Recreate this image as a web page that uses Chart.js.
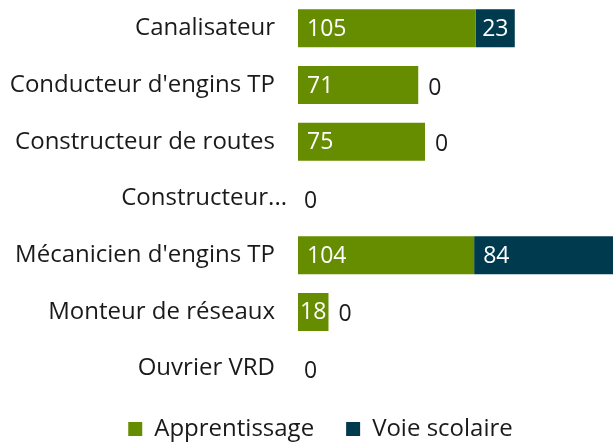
<!DOCTYPE html>
<html>
<head>
<meta charset="utf-8">
<script src="https://cdn.jsdelivr.net/npm/chart.js@4"></script>
<style>
  html, body { margin: 0; padding: 0; background: #fff; }
  #wrap { width: 613px; height: 446px; }
</style>
</head>
<body>
<div id="wrap"><canvas id="myChart"></canvas></div>
<script>
// Chart data
const categories = ["Canalisateur", "Conducteur d'engins TP", "Constructeur de routes", "Constructeur...", "Mécanicien d'engins TP", "Monteur de réseaux", "Ouvrier VRD"];
const apprentissage = [105, 71, 75, 0, 104, 18, 0];
const voieScolaire = [23, 0, 0, 0, 84, 0, 0];

const green = '#668c00';
const navy = '#003a4f';
const fontFamily = "'Open Sans', sans-serif";
const fontSize = 24;

// Draw value labels on / next to each bar
const valueLabels = {
  id: 'valueLabels',
  afterDatasetsDraw(chart) {
    const ctx = chart.ctx;
    ctx.save();
    ctx.font = '23px ' + fontFamily;
    ctx.textBaseline = 'middle';
    ctx.textAlign = 'left';
    const m0 = chart.getDatasetMeta(0);
    const m1 = chart.getDatasetMeta(1);

    // white label inside a segment, pulled in if the segment is narrow
    function inside(bar, value) {
      const w = bar.x - bar.base;
      const tw = ctx.measureText(value).width;
      const pad = Math.max(0, Math.min(9, (w - tw) / 2));
      ctx.fillStyle = '#fff';
      ctx.fillText(value, bar.base + pad, bar.y + 1);
    }

    categories.forEach((c, i) => {
      const a = apprentissage[i];
      const v = voieScolaire[i];
      if (a > 0) inside(m0.data[i], a);
      if (v > 0) {
        inside(m1.data[i], v);
      } else {
        ctx.fillStyle = '#1a1a1a';
        const gap = a > 0 ? 10 : 6;
        ctx.fillText(v, m1.data[i].x + gap, m1.data[i].y + 3);
      }
    });
    ctx.restore();
  }
};

// Fixed legend height and position
const legendTweak = {
  id: 'legendTweak',
  beforeInit(chart) {
    const fit = chart.legend.fit;
    chart.legend.fit = function () {
      fit.bind(chart.legend)();
      this.height = 49;
    };
  },
  afterLayout(chart) {
    chart.legend.left += 14;
    chart.legend.right += 14;
    chart.legend.top -= 12;
  },
  beforeDraw(chart) {
    // the truncated label sits a little closer to the bars
    const items = chart.scales.y.getLabelItems();
    if (items[3]) items[3].options.translation[0] = 287;
  }
};

const ctx = document.getElementById('myChart').getContext('2d');
new Chart(ctx, {
  type: 'bar',
  data: {
    labels: categories,
    datasets: [
      { label: 'Apprentissage', data: apprentissage, backgroundColor: green, barPercentage: 0.67, categoryPercentage: 1 },
      { label: 'Voie scolaire', data: voieScolaire, backgroundColor: navy, barPercentage: 0.67, categoryPercentage: 1 }
    ]
  },
  options: {
    indexAxis: 'y',
    responsive: true,
    maintainAspectRatio: false,
    animation: false,
    layout: { padding: 0 },
    plugins: {
      legend: {
        position: 'bottom',
        labels: {
          font: { family: fontFamily, size: fontSize },
          color: '#1a1a1a',
          boxWidth: 14,
          boxHeight: 14,
          padding: 32
        }
      },
      tooltip: { enabled: false }
    },
    scales: {
      x: {
        stacked: true,
        display: false,
        min: 0,
        max: 186
      },
      y: {
        stacked: true,
        grid: { display: false, drawTicks: false },
        border: { display: false },
        ticks: {
          font: { family: fontFamily, size: fontSize },
          color: '#1a1a1a',
          padding: 23
        },
        afterFit(scale) {
          scale.width = 298;
          scale.paddingTop = 0;
          scale.paddingBottom = 0;
        }
      }
    }
  },
  plugins: [valueLabels, legendTweak]
});
</script>
</body>
</html>
